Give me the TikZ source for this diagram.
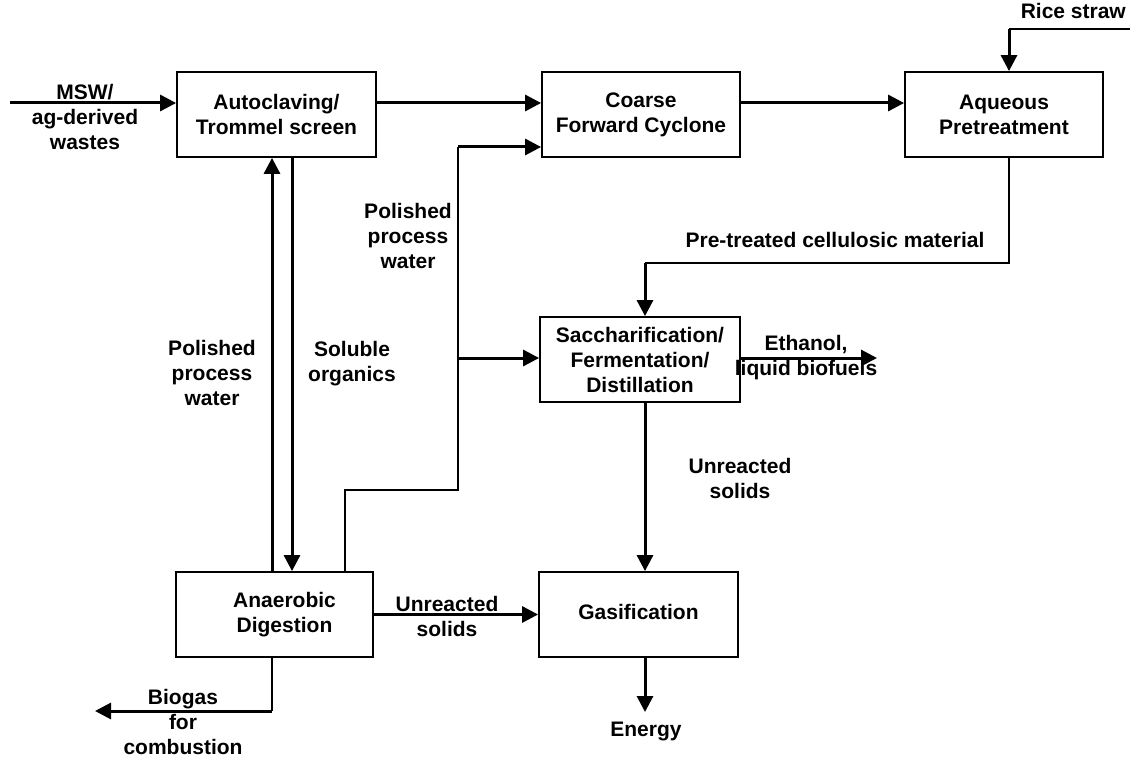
\documentclass[tikz,border=0pt]{standalone}
\usepackage{fontspec}
\setmainfont{Liberation Sans}
\usetikzlibrary{arrows.meta}
\begin{document}
\begin{tikzpicture}[x=1pt,y=-1pt,
  box/.style={draw,line width=1.8pt,rectangle,align=center,inner sep=0pt,font=\bfseries\fontsize{21}{25}\selectfont},
  lbl/.style={align=center,inner sep=0pt,font=\bfseries\fontsize{21}{25}\selectfont},
  thk/.style={line width=3pt,-{Triangle[length=16pt,width=16pt]}},
  thn/.style={line width=1.5pt}]
\useasboundingbox (0,0) rectangle (1130,759);
% boxes
\node[box,minimum width=199pt,minimum height=85pt] (auto) at (276.5,114.5) {Autoclaving/\\Trommel screen};
\node[box,minimum width=198pt,minimum height=85pt] (coarse) at (641,114.5) {Coarse\\Forward Cyclone};
\node[box,minimum width=198pt,minimum height=85pt] (aq) at (1004,114.5) {Aqueous\\Pretreatment};
\node[box,minimum width=200pt,minimum height=85pt] (sac) at (640,359.5) {Saccharification/\\Fermentation/\\Distillation};
\node[box,minimum width=197pt,minimum height=85pt] (an) at (274.5,614.5) {\hspace*{20pt}Anaerobic\\\hspace*{20pt}Digestion};
\node[box,minimum width=199pt,minimum height=85pt] (gas) at (638.5,614.5) {\raisebox{6pt}{Gasification}};
% coordinates
\coordinate (mswin) at (10,103);
\coordinate (rice) at (1130,29);
\coordinate (xrice) at (1009,0);
\coordinate (pt1) at (1009,263);
\coordinate (pt2) at (645,263);
\coordinate (pwtop) at (458,147);
\coordinate (pwmid) at (458,358);
\coordinate (pwbot) at (458,490);
\coordinate (anup) at (345,490);
\coordinate (x272) at (272,0);
\coordinate (x292) at (292,0);
\coordinate (x345) at (345,0);
\coordinate (bio) at (272,711);
\coordinate (bioend) at (95,711);
\coordinate (eth) at (877,358);
\coordinate (en) at (645,712);
\coordinate (x645) at (645,0);
% connectors
\draw[thk] (mswin) -- (mswin -| auto.west);
\draw[thk] (mswin -| auto.east) -- (mswin -| coarse.west);
\draw[thk] (mswin -| coarse.east) -- (mswin -| aq.west);
\draw[thn] (rice) -- (rice -| xrice);
\draw[thk] (rice -| xrice) -- (xrice |- aq.north);
\draw[thn] (xrice |- aq.south) -- (pt1) -- (pt2);
\draw[thk] (pt2) -- (pt2 |- sac.north);
\draw[thn] (x345 |- an.north) -- (anup) -- (pwbot) -- (pwtop);
\draw[thk] (pwtop) -- (pwtop -| coarse.west);
\draw[thk] (pwmid) -- (pwmid -| sac.west);
\draw[thk] (x272 |- an.north) -- (x272 |- auto.south);
\draw[thk] (x292 |- auto.south) -- (x292 |- an.north);
\draw[thk] (eth -| sac.east) -- (eth);
\draw[thk] (x645 |- sac.south) -- (x645 |- gas.north);
\draw[thk] (an.east) -- (gas.west);
\draw[thk] (x645 |- gas.south) -- (en);
\draw[thn] (x272 |- an.south) -- (bio);
\draw[thk] (bio) -- (bioend);
% labels
\node[lbl] (l1) at (85,117) {MSW/\\ag-derived\\wastes};
\node[lbl,anchor=north east] (l2) at (1126,3) {Rice straw};
\node[lbl] (l3) at (408,236) {Polished\\process\\water};
\node[lbl] (l4) at (835,240) {Pre-treated cellulosic material};
\node[lbl] (l5) at (212,373) {Polished\\process\\water};
\node[lbl] (l6) at (352,364) {Soluble\\organics};
\node[lbl] (l7) at (806,358) {Ethanol,\\liquid biofuels};
\node[lbl] (l8) at (740,478) {Unreacted\\solids};
\node[lbl] (l9) at (447,616) {Unreacted\\solids};
\node[lbl] (l10) at (646,731) {Energy};
\node[lbl] (l11) at (183,722) {Biogas\\for\\combustion};
\end{tikzpicture}
\end{document}
